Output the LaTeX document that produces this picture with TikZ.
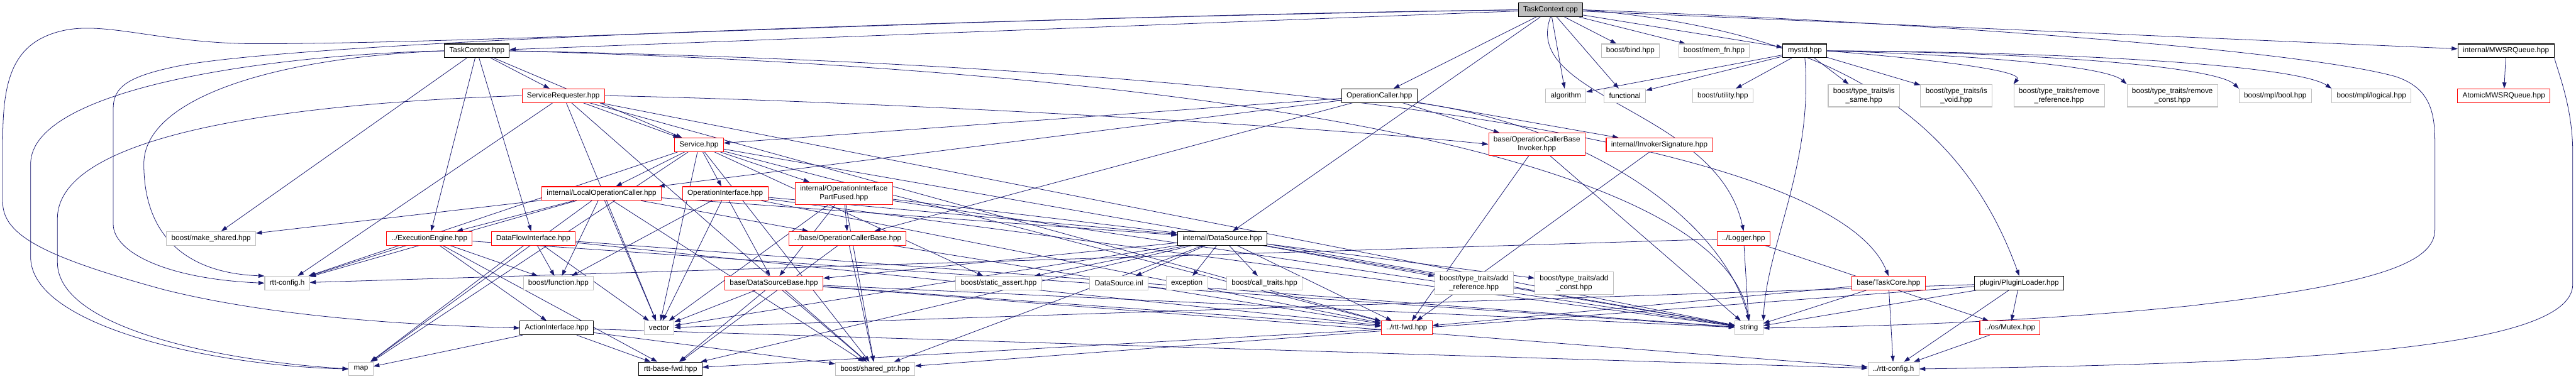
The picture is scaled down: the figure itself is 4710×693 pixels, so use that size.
\documentclass[tikz,border=0pt]{standalone}
\usepackage{fontspec}
\setmainfont{Liberation Sans}
\usetikzlibrary{arrows.meta,backgrounds}
\definecolor{edgeblue}{RGB}{25,25,112}
\definecolor{boxgray}{RGB}{191,191,191}
\tikzset{
  file/.style={rectangle,fill=white,line width=1.2pt,inner xsep=9pt,inner ysep=3pt,
    minimum height=25pt,align=center,font=\fontsize{13.5}{16}\selectfont},
  twoline/.style={minimum height=41pt},
  sysfile/.style={file,draw=boxgray},
  docfile/.style={file,draw=black},
  truncfile/.style={file,draw=red},
  mainfile/.style={file,draw=black,fill=boxgray},
  dep/.style={draw=edgeblue,line width=0.9pt,-{Triangle[length=11pt,width=7.5pt]}}
}
\begin{document}
\begin{tikzpicture}[x=1pt,y=-1pt]
\useasboundingbox (0,0) rectangle (4710,693);
% row 1 and 2
\node[mainfile] (cpp) at (2835,18) {TaskContext.cpp};
\node[docfile] (tchpp) at (872,93) {TaskContext.hpp};
\node[sysfile] (bind) at (2981,93) {boost/bind.hpp};
\node[sysfile] (memfn) at (3134,93) {boost/mem\_fn.hpp};
\node[docfile] (mystd) at (3300,93) {mystd.hpp};
\node[docfile] (mwsr) at (4582,93) {internal/MWSRQueue.hpp};
% row 3
\node[truncfile] (sreq) at (1030,175) {ServiceRequester.hpp};
\node[docfile] (opcaller) at (2522,175) {OperationCaller.hpp};
\node[sysfile] (algo) at (2863,175) {algorithm};
\node[sysfile] (func) at (2971,175) {functional};
\node[sysfile] (util) at (3150,175) {boost/utility.hpp};
\node[sysfile,twoline] (issame) at (3408,175) {boost/type\_traits/is\\\_same.hpp};
\node[sysfile,twoline] (isvoid) at (3577,175) {boost/type\_traits/is\\\_void.hpp};
\node[sysfile,twoline] (remref) at (3765,175) {boost/type\_traits/remove\\\_reference.hpp};
\node[sysfile,twoline] (remconst) at (3972,175) {boost/type\_traits/remove\\\_const.hpp};
\node[sysfile] (mplbool) at (4160,175) {boost/mpl/bool.hpp};
\node[sysfile] (mpllog) at (4336,175) {boost/mpl/logical.hpp};
\node[truncfile] (atomic) at (4578,175) {AtomicMWSRQueue.hpp};
% row 4 and 5
\node[truncfile] (service) at (1278,265) {Service.hpp};
\node[truncfile,twoline] (invoker) at (2810,264) {base/OperationCallerBase\\Invoker.hpp};
\node[truncfile] (invsig) at (3034,265) {internal/InvokerSignature.hpp};
\node[truncfile] (localop) at (1100,354) {internal/LocalOperationCaller.hpp};
\node[truncfile] (opif) at (1326,354) {OperationInterface.hpp};
\node[truncfile,twoline] (partfused) at (1543,354) {internal/OperationInterface\\PartFused.hpp};
% row 6
\node[sysfile] (makeshared) at (386,436) {boost/make\_shared.hpp};
\node[truncfile] (exeng) at (785,436) {../ExecutionEngine.hpp};
\node[truncfile] (dfi) at (975,436) {DataFlowInterface.hpp};
\node[truncfile] (opbase) at (1550,436) {../base/OperationCallerBase.hpp};
\node[docfile] (datasource) at (2235,436) {internal/DataSource.hpp};
\node[truncfile] (logger) at (3188,436) {../Logger.hpp};
% row 7
\node[sysfile] (rttcfg) at (525,518) {rtt-config.h};
\node[sysfile] (bfunc) at (1021,518) {boost/function.hpp};
\node[truncfile] (dsbase) at (1415,518) {base/DataSourceBase.hpp};
\node[sysfile] (sassert) at (1826,518) {boost/static\_assert.hpp};
\node[sysfile] (dsinl) at (2046,518) {DataSource.inl};
\node[sysfile] (exception) at (2170,518) {exception};
\node[sysfile] (calltraits) at (2312,518) {boost/call\_traits.hpp};
\node[sysfile,twoline] (addref) at (2695,518) {boost/type\_traits/add\\\_reference.hpp};
\node[sysfile,twoline] (addconst) at (2878,518) {boost/type\_traits/add\\\_const.hpp};
\node[truncfile] (taskcore) at (3453,518) {base/TaskCore.hpp};
\node[docfile] (plugin) at (3692,518) {plugin/PluginLoader.hpp};
% row 8 and 9
\node[docfile] (action) at (1018,600) {ActionInterface.hpp};
\node[sysfile] (vector) at (1205,600) {vector};
\node[truncfile] (rttfwd) at (2572,600) {../rtt-fwd.hpp};
\node[sysfile] (string) at (3198,600) {string};
\node[truncfile] (mutex) at (3675,600) {../os/Mutex.hpp};
\node[sysfile] (map) at (660,675) {map};
\node[docfile] (basefwd) at (1226,675) {rtt-base-fwd.hpp};
\node[sysfile] (sharedptr) at (1600,675) {boost/shared\_ptr.hpp};
\node[sysfile] (rttcfg2) at (3462,675) {../rtt-config.h};

\begin{pgfonlayer}{background}
% includes of TaskContext.cpp
\foreach \t in {tchpp,bind,memfn,mystd,opcaller,algo,func,mwsr,datasource}
  \draw[dep] (cpp) -- (\t);
\draw[dep] (cpp.south) .. controls (2780,180) and (3140,200) .. (logger.north);
\draw[dep] (cpp.west) .. controls (1800,30) and (900,80) .. (470,80)
  .. controls (300,80) and (200,40) .. (120,55) .. controls (20,75) and (5,150) .. (5,260)
  -- (5,370) .. controls (5,430) and (80,470) .. (300,530)
  .. controls (500,580) and (750,595) .. (action.west);
\draw[dep] (cpp.west) .. controls (2000,30) and (600,70) .. (330,120)
  .. controls (230,140) and (207,160) .. (207,200) -- (207,410)
  .. controls (207,460) and (300,510) .. (rttcfg.west);
\draw[dep] (cpp.east) .. controls (3500,40) and (4200,90) .. (4380,140)
  .. controls (4440,160) and (4452,200) .. (4452,260) -- (4452,420)
  .. controls (4452,480) and (4350,520) .. (4000,560)
  .. controls (3700,590) and (3400,598) .. (string.east);
\draw[dep] (cpp.east) .. controls (3400,60) and (3600,250) .. (plugin.north);
% TaskContext.hpp
\foreach \t in {sreq,service,exeng,dfi,makeshared}
  \draw[dep] (tchpp) -- (\t);
\draw[dep] (tchpp.west) .. controls (500,100) and (56,160) .. (56,300) -- (56,470)
  .. controls (56,600) and (400,670) .. (map.west);
\draw[dep] (tchpp.west) .. controls (500,105) and (263,180) .. (263,300)
  .. controls (263,440) and (350,500) .. (rttcfg.north west);
\draw[dep] (tchpp.east) .. controls (2300,120) and (3350,250) .. (taskcore.north);
\draw[dep] (tchpp.east) .. controls (2300,130) and (3150,300) .. (string.north);
% ServiceRequester.hpp
\foreach \t in {service,rttcfg,vector,string,sharedptr,rttfwd}
  \draw[dep] (sreq) -- (\t);
\draw[dep] (sreq.west) .. controls (500,190) and (105,250) .. (105,400) -- (105,480)
  .. controls (105,600) and (400,660) .. (map.west);
\draw[dep] (sreq.east) .. controls (1600,185) and (2400,230) .. (invoker.west);
% OperationCaller.hpp
\foreach \t in {service,localop,opbase,invoker,invsig}
  \draw[dep] (opcaller) -- (\t);
\draw[dep] (opcaller.south east) .. controls (2900,230) and (3150,400) .. (string.north);
% Service.hpp
\foreach \t in {localop,opif,partfused,rttcfg,map,vector,sharedptr,string,rttfwd,sassert}
  \draw[dep] (service) -- (\t);
% internal/LocalOperationCaller.hpp
\foreach \t in {exeng,makeshared,opbase,bfunc,rttcfg,map,sharedptr,vector,datasource}
  \draw[dep] (localop) -- (\t);
% OperationInterface.hpp
\foreach \t in {dsbase,datasource,bfunc,vector,string,rttfwd}
  \draw[dep] (opif) -- (\t);
% internal/OperationInterfacePartFused.hpp
\foreach \t in {opbase,datasource,vector,sharedptr,string,dsbase}
  \draw[dep] (partfused) -- (\t);
% ../ExecutionEngine.hpp
\foreach \t in {rttcfg,bfunc,action,basefwd,string}
  \draw[dep] (exeng) -- (\t);
% DataFlowInterface.hpp
\foreach \t in {bfunc,map,vector,rttfwd,string}
  \draw[dep] (dfi) -- (\t);
% ../base/OperationCallerBase.hpp
\foreach \t in {sharedptr,rttfwd,basefwd}
  \draw[dep] (opbase) -- (\t);
% internal/DataSource.hpp
\foreach \t in {dsbase,sassert,dsinl,exception,calltraits,addref,addconst,string,vector,sharedptr,rttfwd,basefwd}
  \draw[dep] (datasource) -- (\t);
% base/DataSourceBase.hpp
\foreach \t in {vector,sharedptr,rttfwd,string,basefwd,rttcfg2}
  \draw[dep] (dsbase) -- (\t);
% ../Logger.hpp
\foreach \t in {rttcfg,string,mutex}
  \draw[dep] (logger) -- (\t);
% the rest
\foreach \t in {rttfwd,string}
  \draw[dep] (invoker) -- (\t);
\draw[dep] (invsig) -- (rttfwd);
\foreach \t in {string,rttcfg2,rttfwd}
  \draw[dep] (taskcore) -- (\t);
\foreach \t in {string,vector,sharedptr,rttcfg2,mutex}
  \draw[dep] (plugin) -- (\t);
\draw[dep] (mutex) -- (rttcfg2);
\foreach \t in {map,basefwd,sharedptr,rttcfg2}
  \draw[dep] (action) -- (\t);
\draw[dep] (rttfwd) -- (basefwd);
\draw[dep] (mwsr) -- (atomic);
\draw[dep] (mwsr.south east) .. controls (4680,140) and (4704,200) .. (4704,280) -- (4704,520)
  .. controls (4704,640) and (4200,665) .. (rttcfg2.east);
% mystd.hpp
\foreach \t in {algo,func,util,issame,isvoid}
  \draw[dep] (mystd) -- (\t);
\draw[dep] (mystd.east) .. controls (3550,110) and (3700,130) .. (remref.north west);
\draw[dep] (mystd.east) .. controls (3600,100) and (3850,120) .. (remconst.north west);
\draw[dep] (mystd.east) .. controls (3700,95) and (4050,120) .. (mplbool.north west);
\draw[dep] (mystd.east) .. controls (3800,95) and (4200,120) .. (mpllog.north west);
\draw[dep] (mystd.south) .. controls (3316,300) and (3230,450) .. (string.north east);
\end{pgfonlayer}
\end{tikzpicture}
\end{document}
